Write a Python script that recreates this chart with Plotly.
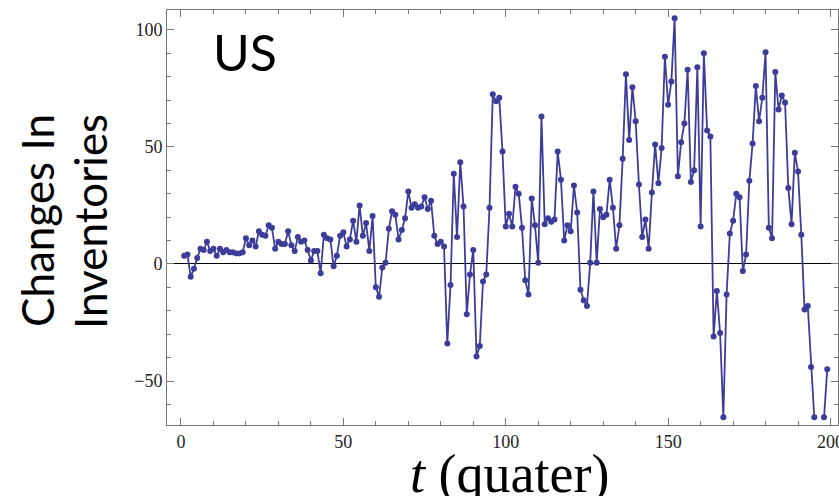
import plotly.graph_objects as go

# Quarterly changes in inventories, US (None = outside the plotted range)
quarters = list(range(1, 200))
changes = [
    3.5, 4, -5.5, -2, 2.5, 6.5, 6, 9.5, 5.5, 6.5,
    3.5, 6.5, 5, 6, 5, 5, 4.5, 4.5, 5, 11,
    8, 10, 7.5, 14, 12.5, 12, 16.5, 15.5, 6.5, 9.5,
    8.5, 8.5, 14, 8, 5.5, 11.5, 9.5, 10, 6, 1.5,
    5.5, 5.5, -4, 12.5, 11, 10.5, -1, 3.5, 12, 13.5,
    7.5, 10.5, 18.5, 9.5, 25, 12, 17.5, 5.5, 20.5, -10,
    -14, -1.5, 0.5, 15, 22.5, 21, 10.5, 14.5, 19.5, 31,
    24, 25.5, 24, 24.5, 28.5, 23.5, 27, 12, 8.5, 9.5,
    7.5, -34, -9, 38.5, 11.5, 43.5, 24.5, -21.5, -4.5, 6,
    -39.5, -35, -7.5, -4.5, 24, 72.5, 69.5, 71, 48, 16,
    21.5, 16, 33, 30, 15.5, -7, -13, 28, 16.5, 0.5,
    63, 17, 19.5, 18, 19, 48, 36, 10, 16.5, 14,
    33.5, 22, -11, -15.5, -18, 0.5, 31, 0.5, 23.5, 20,
    21, 36, 24, 6.5, 16.5, 45, 81, 53, 75.5, 61,
    34, 11.5, 19, 6.5, 30.5, 51, 34.5, 49.5, 88.5, 68,
    78, 105, 37.5, 52, 60, 83, 35, 40, 84, 16,
    90, 57, 54.5, -31, -11.5, -29.5, -65.5, -13, 13, 18.5,
    30, 28.5, -3, 4, 35.5, 51.5, 76, 61, 71, 90.5,
    15.5, 11, 82, 66, 72, 69, 32.5, 17, 47.5, 39.5,
    12.5, -19.5, -18, -44, -65.5, None, None, -65.5, -45,
]

x_ticks = [0, 50, 100, 150, 200]
y_ticks = [-50, 0, 50, 100]

line_color = "#3d3d99"
frame_color = "#777777"
tick_font = dict(family="Liberation Serif", size=18, color="#222222")

fig = go.Figure(
    go.Scatter(
        x=quarters,
        y=changes,
        mode="lines+markers",
        line=dict(color=line_color, width=1.8),
        marker=dict(color=line_color, size=6),
        connectgaps=False,
        showlegend=False,
    )
)

axis_common = dict(
    showgrid=False,
    showline=True,
    linecolor=frame_color,
    linewidth=1,
    mirror="allticks",
    ticks="inside",
    ticklen=7,
    tickcolor=frame_color,
    tickwidth=1,
    tickfont=tick_font,
    ticklabeloverflow="allow",
    automargin=False,
)

fig.update_xaxes(
    **axis_common,
    range=[-4.3, 202.3],
    tickvals=x_ticks,
    zeroline=False,
    minor=dict(dtick=10, tick0=0, ticks="inside", ticklen=4, tickcolor=frame_color),
)
fig.update_yaxes(
    **axis_common,
    range=[-68.8, 108.5],
    tickvals=y_ticks,
    zeroline=True,
    zerolinecolor="#000000",
    zerolinewidth=1,
    minor=dict(dtick=10, tick0=0, ticks="inside", ticklen=4, tickcolor=frame_color),
)

title_font = dict(family="Lato", size=44, color="#000000")

fig.update_layout(
    width=839,
    height=496,
    margin=dict(l=167, r=1, t=10, b=71, pad=0, autoexpand=False),
    paper_bgcolor="white",
    plot_bgcolor="white",
    showlegend=False,
    annotations=[
        dict(
            text="US",
            x=0.066, y=0.975, xref="paper", yref="paper",
            xanchor="left", yanchor="top", showarrow=False,
            font=dict(family="Lato", size=50, color="#000000"),
        ),
        dict(
            text="Changes In",
            x=-0.1937, y=0.4916, xref="paper", yref="paper",
            xanchor="center", yanchor="middle", showarrow=False,
            textangle=-90, font=title_font,
        ),
        dict(
            text="Inventories",
            x=-0.1148, y=0.4916, xref="paper", yref="paper",
            xanchor="center", yanchor="middle", showarrow=False,
            textangle=-90, font=title_font,
        ),
        dict(
            text="<i>t</i> (quater)",
            x=0.51, y=-0.118, xref="paper", yref="paper",
            xanchor="center", yanchor="middle", showarrow=False,
            font=dict(family="Liberation Serif", size=54, color="#000000"),
        ),
    ],
)

fig.write_html("out.html")
